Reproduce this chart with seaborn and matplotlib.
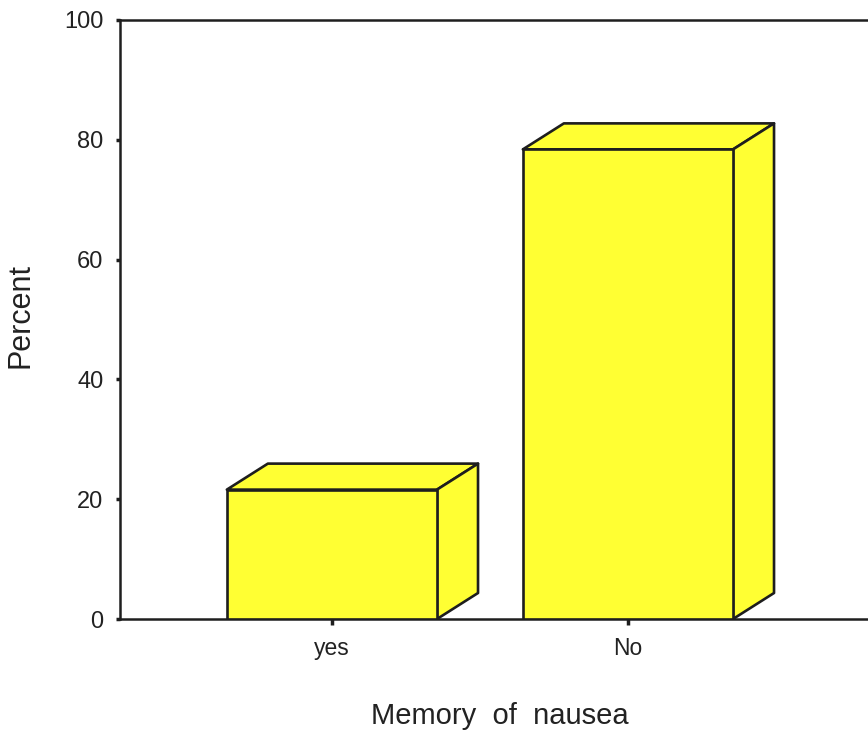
import matplotlib
matplotlib.use("Agg")
import matplotlib.pyplot as plt
import seaborn as sns
import pandas as pd
import numpy as np
from matplotlib.patches import Polygon

categories = ["yes", "No"]
percent = [21.6, 78.4]
yticks = [0, 20, 40, 60, 80, 100]

sns.set_theme(style="white")
plt.rcParams['font.family'] = ['Liberation Sans', 'DejaVu Sans']

W, H, DPI = 868, 734, 100
fig = plt.figure(figsize=(W / DPI, H / DPI), dpi=DPI)
ax = fig.add_axes([120 / W, 1 - 619 / H, (W - 120) / W, (619 - 20) / H])

df = pd.DataFrame({"cat": categories, "pct": percent})
face = "#FFFF33"
edge = "#1e1e1e"
sns.barplot(data=df, x="cat", y="pct", order=categories, color=face, saturation=1,
            width=0.71, edgecolor=edge, linewidth=1.9, ax=ax, zorder=3)

ax.set_xlim(-0.716, 1.811)
ax.set_ylim(0, 100)
ax.set_yticks(yticks)
ax.set_yticklabels([str(t) for t in yticks])

for s in ["left", "top", "bottom"]:
    ax.spines[s].set_visible(True)
    ax.spines[s].set_color(edge)
    ax.spines[s].set_linewidth(1.8)
ax.spines["right"].set_visible(False)

ax.tick_params(axis="y", which="major", left=True, length=3, width=2.5, color=edge,
               labelsize=17, pad=9, labelcolor="#222222")
ax.tick_params(axis="x", which="major", bottom=True, length=4, width=2.5, color=edge,
               labelsize=16.5, pad=9, labelcolor="#222222")

ax.set_xlabel("Memory  of  nausea", fontsize=21, color="#222222")
ax.set_ylabel("Percent", fontsize=22, color="#222222")
ax.xaxis.set_label_coords(0.508, -0.138)
ax.yaxis.set_label_coords(-0.1136, 0.506)

# 3D faces: offset in pixels
dxp, dyp = 41, 26
fig.canvas.draw()
td = ax.transData
inv = td.inverted()

def off(pt):
    d = td.transform(pt)
    return inv.transform((d[0] + dxp, d[1] + dyp))

for p in list(ax.patches):
    x0 = p.get_x()
    x1 = x0 + p.get_width()
    h = p.get_height()
    top = [(x0, h), (x1, h), tuple(off((x1, h))), tuple(off((x0, h)))]
    side = [(x1, 0), (x1, h), tuple(off((x1, h))), tuple(off((x1, 0)))]
    for verts in (top, side):
        ax.add_patch(Polygon(verts, closed=True, facecolor=face, edgecolor=edge,
                             linewidth=1.9, zorder=2.5, joinstyle="round"))

fig.savefig("out.png", dpi=DPI, facecolor="white")
